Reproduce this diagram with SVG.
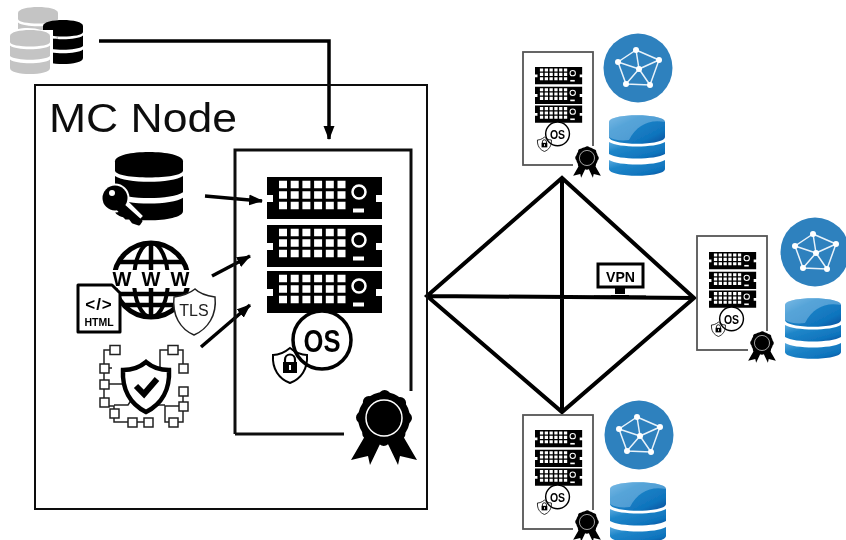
<svg xmlns="http://www.w3.org/2000/svg" width="846" height="540" viewBox="0 0 846 540">
<style>
.sans{font-family:"Liberation Sans",Arial,sans-serif}
.bold{font-family:"Liberation Sans",Arial,sans-serif;font-weight:700}
.box{fill:none;stroke:#111;stroke-width:2}
.inner{fill:none;stroke:#111;stroke-width:3}
.smallbox{fill:none;stroke:#555;stroke-width:1.8}
.line{fill:none;stroke:#000;stroke-width:3.5}
.net{fill:none;stroke:#000;stroke-width:4;stroke-linejoin:miter}
.sq{fill:#fff;stroke:#222;stroke-width:1.5}
.wire{fill:none;stroke:#222;stroke-width:1.5}
</style>
<defs>
<filter id="soft" x="0" y="0" width="100%" height="100%"><feGaussianBlur stdDeviation=".4"/></filter>
<marker id="arrow" markerWidth="16" markerHeight="12" refX="13" refY="5.500" orient="auto" markerUnits="userSpaceOnUse"><path d="M0 0L14 5.500L0 11Z" fill="#000"/></marker>
<linearGradient id="blue" x1="0" y1="0" x2="1" y2="1"><stop offset="0" stop-color="#5aaade"/><stop offset=".3" stop-color="#1f86c9"/><stop offset=".75" stop-color="#0f74bd"/><stop offset="1" stop-color="#0a4f9c"/></linearGradient>
<g id="rack">
<path d="M0 0H115V18H109V25H115V42H0V25H6V18H0Z" fill="#000"/>
<path d="M12 7.500H80M12 18H80M12 28.500H80" stroke="#fff" stroke-width="7.500" stroke-dasharray="8 3.700" fill="none"/>
<circle cx="92" cy="15" r="6.500" fill="none" stroke="#fff" stroke-width="2.500"/>
<rect x="86" y="31.500" width="11" height="4" fill="#fff"/>
</g>
<g id="server">
<use href="#rack"/><use href="#rack" y="48"/><use href="#rack" y="94"/>
<circle cx="55" cy="163" r="29" fill="#fff"/>
<path d="M23 171C29 176 35 178 40 178C41 192 34 202 23 206C12 202 5 192 6 178C11 178 17 176 23 171Z" fill="#fff" stroke="#000" stroke-width="2"/>
<path d="M18 186V182.500A5 5 0 0 1 28 182.500V186" fill="none" stroke="#000" stroke-width="2.200"/>
<rect x="16" y="185" width="14" height="11" fill="#000"/>
<rect x="22" y="188" width="2" height="5" fill="#fff"/>
<circle cx="55" cy="163" r="29" fill="none" stroke="#000" stroke-width="3.500"/>
<text x="55" y="174.500" text-anchor="middle" class="bold" font-size="32" textLength="37" lengthAdjust="spacingAndGlyphs">OS</text>
</g>
<g id="badge">
<path d="M-19 18L-33 42L-16 38L-14 47L-3 24ZM19 18L33 42L16 38L14 47L3 24Z" fill="#000"/>
<circle r="26" fill="#000"/>
<circle r="22" fill="none" stroke="#000" stroke-width="12" stroke-linecap="round" stroke-dasharray="0 17.280"/>
<circle r="18" fill="none" stroke="#fff" stroke-width="1.500"/>
</g>
<g id="network">
<circle r="34.500" fill="#2e81be"/>
<path d="M-2-18L21-8L12 17L-12 16L-20-6ZM1 1L-2-18M1 1L21-8M1 1L12 17M1 1L-12 16M1 1L-20-6" fill="none" stroke="#e8f2fa" stroke-width="1.500"/>
<g fill="#fff"><circle cx="-2" cy="-18" r="3"/><circle cx="21" cy="-8" r="3"/><circle cx="12" cy="17" r="3"/><circle cx="-12" cy="16" r="3"/><circle cx="-20" cy="-6" r="3"/><circle cx="1" cy="1" r="3"/></g>
</g>
<g id="bluedb">
<path d="M0 7C0-2 56-2 56 7V22C56 31 0 31 0 22Z" fill="url(#blue)"/>
<path d="M0 27C10 33 46 33 56 27V39C46 45 10 45 0 39Z" fill="url(#blue)"/>
<path d="M0 45C10 51 46 51 56 45V54C56 63 0 63 0 54Z" fill="url(#blue)"/>
<path d="M0 7C0-2 56-2 56 7C40 4 28 10 20 25C12 26 4 25 0 22Z" fill="#a9d3ef" opacity=".4"/>
</g>
<g id="stack">
<path d="M0 6C0-2 40-2 40 6V12C40 18 0 18 0 12Z"/>
<path d="M0 15.500C6 20.500 34 20.500 40 15.500V26C34 31 6 31 0 26Z"/>
<path d="M0 29.500C6 34.500 34 34.500 40 29.500V38C40 46 0 46 0 38Z"/>
</g>
</defs>

<g filter="url(#soft)">
<rect width="846" height="540" fill="#fff"/>
<g id="connectors">
<path class="line" d="M99 41H329V139" marker-end="url(#arrow)"/>
<path class="line" d="M205 196L262 201" marker-end="url(#arrow)"/>
<path class="line" d="M212 276L250 256" marker-end="url(#arrow)"/>
<path class="line" d="M201 347L250 305" marker-end="url(#arrow)"/>
<path class="net" d="M427 296L562 178L694 298L562 412ZM427 296L694 298M562 178V412"/>
</g>

<g id="data-stores">
<use href="#stack" x="18" y="7" fill="#c4c4c4"/>
<use href="#stack" x="43" y="20" fill="#000"/>
<path d="M41 30C33 27 16 27 8 33V80H53V30Z" fill="#fff"/>
<use href="#stack" x="10" y="30" fill="#c4c4c4"/>
</g>

<g id="mc-node">
<rect class="box" x="35" y="85" width="392" height="424"/>
<text x="49" y="132" class="sans" font-size="41" textLength="188" lengthAdjust="spacingAndGlyphs" fill="#111">MC Node</text>
</g>

<g id="secure-enclave">
<path class="inner" d="M235 434V150H411V391M235 434H344"/>
</g>

<g id="main-server"><use href="#server" x="267" y="177"/></g>
<g id="main-cert"><rect x="344" y="391" width="80" height="78" fill="#fff"/><use href="#badge" transform="translate(384 418)"/></g>

<g id="key-db">
<g transform="translate(115 152) scale(1.7 1.55)"><use href="#stack"/></g>
<path d="M124 205L139 220" stroke="#fff" stroke-width="11" fill="none"/>
<circle cx="115" cy="198" r="14.500" fill="#fff"/>
<path d="M122 204L141 221L139 224L133 222L130 218L126 218L117 208Z" fill="#000" stroke="#000" stroke-width="3" stroke-linejoin="round"/>
<circle cx="115" cy="198" r="12.500" fill="#000"/>
<circle cx="112" cy="193" r="3" fill="#fff"/>
</g>

<g id="web">
<circle cx="151" cy="280" r="37" fill="#fff" stroke="#000" stroke-width="5"/>
<ellipse cx="151" cy="280" rx="17" ry="37" fill="none" stroke="#000" stroke-width="4"/>
<path d="M151 243V317M118 262H184M118 294H184M125 305H177" stroke="#000" stroke-width="4.500" fill="none"/>
<rect x="108" y="270" width="86" height="18" fill="#fff"/>
<g class="bold" font-size="20" text-anchor="middle"><text x="122" y="286">W</text><text x="151" y="286">W</text><text x="180" y="286">W</text></g>
<path d="M78 285H112L120 293V332H78Z" fill="#fff" stroke="#000" stroke-width="3" stroke-linejoin="round"/>
<text x="99" y="310" text-anchor="middle" class="bold" font-size="17" letter-spacing="1">&lt;/&gt;</text>
<text x="99" y="326" text-anchor="middle" class="bold" font-size="10.500">HTML</text>
<path d="M195 289C200 294 208 296 215 297C217 315 208 329 194 335C180 329 172 315 174 297C181 296 189 294 195 289Z" fill="#fff" stroke="#222" stroke-width="1.500"/>
<text x="194" y="316" text-anchor="middle" class="sans" font-size="16" fill="#222">TLS</text>
</g>

<g id="policy">
<path class="wire" d="M115 350H104V402M104 384H122M104 368H112M114 413V406H104M114 413V422H132M132 422H148M173 350H160V372M173 350H183V368M183 391V406M183 406H165V422H173M173 422H183V406M114 405H128L132 399M148 405H165"/>
<g class="sq">
<rect x="110" y="345.500" width="10" height="9"/><rect x="168" y="345.500" width="10" height="9"/>
<rect x="100" y="364" width="9" height="9"/><rect x="179" y="364" width="9" height="9"/>
<rect x="100" y="380" width="9" height="9"/><rect x="179" y="387" width="9" height="9"/>
<rect x="100" y="398" width="9" height="9"/><rect x="179" y="402" width="9" height="9"/>
<rect x="110" y="409" width="9" height="9"/><rect x="128" y="418" width="9" height="9"/>
<rect x="144" y="418" width="9" height="9"/><rect x="169" y="418" width="9" height="9"/>
</g>
<path d="M146 362C153 368 161 370 169 370C170 389 162 404 146 412C130 404 122 389 123 370C131 370 139 368 146 362Z" fill="#fff" stroke="#000" stroke-width="4.500"/>
<path d="M136 386L144 394L157 379" fill="none" stroke="#000" stroke-width="6"/>
</g>

<g id="peer-top">
<rect class="smallbox" x="523" y="52" width="70" height="113"/>
<use href="#server" transform="translate(535 67) scale(.41)"/>
<rect x="573" y="146" width="28" height="28" fill="#fff"/>
<use href="#badge" transform="translate(587 158) scale(.42)"/>
<use href="#network" transform="translate(638 68)"/>
<use href="#bluedb" transform="translate(609 115)"/>
</g>

<g id="peer-right">
<rect class="smallbox" x="697" y="236" width="70" height="114"/>
<use href="#server" transform="translate(709 252) scale(.41)"/>
<rect x="748" y="331" width="28" height="28" fill="#fff"/>
<use href="#badge" transform="translate(762 343) scale(.42)"/>
<use href="#network" transform="translate(815 252)"/>
<use href="#bluedb" transform="translate(785 298)"/>
</g>

<g id="peer-bottom">
<rect class="smallbox" x="523" y="415" width="70" height="114"/>
<use href="#server" transform="translate(535 430) scale(.41)"/>
<rect x="573" y="510" width="28" height="28" fill="#fff"/>
<use href="#badge" transform="translate(587 522) scale(.42)"/>
<use href="#network" transform="translate(639 435)"/>
<use href="#bluedb" transform="translate(610 482)"/>
</g>

<g id="vpn">
<rect x="598" y="264" width="45" height="23" fill="#fff" stroke="#000" stroke-width="3"/>
<text x="620.500" y="281.500" text-anchor="middle" class="bold" font-size="15" textLength="29" lengthAdjust="spacingAndGlyphs">VPN</text>
<rect x="615" y="288" width="10" height="6" fill="#000"/>
<rect x="594" y="295.500" width="52" height="3" fill="#000"/>
<rect x="611" y="295" width="18" height="4" fill="#000"/>
</g>
</g>
</svg>
